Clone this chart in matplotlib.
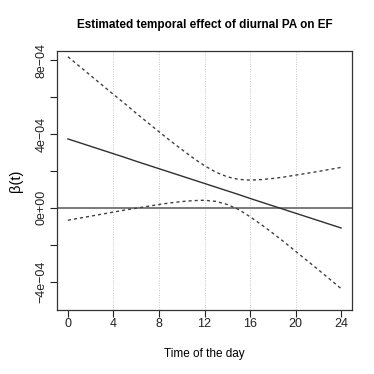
import numpy as np
import matplotlib
matplotlib.use('Agg')
import matplotlib.pyplot as plt

plt.rcParams['font.family'] = ['Liberation Sans', 'DejaVu Sans']

# Hour of day and estimated coefficient (units 1e-4)
hours = list(range(0, 25))
beta = [3.73, 3.53, 3.33, 3.13, 2.93, 2.73, 2.52, 2.32, 2.12, 1.92, 1.72, 1.52, 1.32,
        1.12, 0.92, 0.72, 0.51, 0.31, 0.11, -0.09, -0.29, -0.49, -0.69, -0.89, -1.09]
upper = [8.18, 7.67, 7.16, 6.65, 6.14, 5.64, 5.12, 4.62, 4.12, 3.63, 3.16, 2.70, 2.28,
         1.93, 1.68, 1.54, 1.50, 1.53, 1.59, 1.67, 1.77, 1.87, 1.97, 2.08, 2.19]
lower = [-0.67, -0.56, -0.45, -0.34, -0.23, -0.12, -0.02, 0.08, 0.18, 0.27, 0.34, 0.39, 0.41,
         0.35, 0.18, -0.09, -0.48, -0.91, -1.37, -1.85, -2.35, -2.85, -3.35, -3.86, -4.37]

x_ticks = [0, 4, 8, 12, 16, 20, 24]
grid_hours = [4, 8, 12, 16, 20]
y_ticks = [-4e-4, -2e-4, 0, 2e-4, 4e-4, 6e-4, 8e-4]
y_labels = {-4e-4: '\u22124e\u221204', 0: '0e+00', 4e-4: '4e\u221204', 8e-4: '8e\u221204'}

scale = 1e-4
beta = np.array(beta) * scale
upper = np.array(upper) * scale
lower = np.array(lower) * scale

fig = plt.figure(figsize=(3.74, 3.74), dpi=100)
ax = fig.add_axes([57/374, 1 - 310/374, 295/374, 259/374])

for h in grid_hours:
    ax.axvline(h, color='#c8c8c8', lw=0.7, linestyle=(0, (1, 1.5)), zorder=0)
ax.axhline(0, color='#707070', lw=1.3, zorder=1)

dash = (0, (2.2, 2.2))
ax.plot(hours, beta, color='#303030', lw=1.0, zorder=2)
ax.plot(hours, upper, color='#404040', lw=1.0, linestyle=dash, zorder=2)
ax.plot(hours, lower, color='#404040', lw=1.0, linestyle=dash, zorder=2)

ax.set_xlim(-0.96, 24.96)
ax.set_ylim(-5.53e-4, 8.49e-4)

ax.set_xticks(x_ticks)
ax.set_xticklabels([str(t) for t in x_ticks])
ax.set_yticks(y_ticks)
ax.set_yticklabels([y_labels.get(v, '') for v in y_ticks])
ax.tick_params(axis='both', direction='out', length=5, width=0.8, colors='#222222', labelsize=9)
ax.tick_params(axis='x', pad=1.0)
ax.tick_params(axis='y', pad=2.0)
for lab in ax.get_yticklabels():
    lab.set_rotation(90)
    lab.set_va('center')

for sp in ax.spines.values():
    sp.set_color('#333333')
    sp.set_linewidth(0.9)

fig.text(204.5/374, 1 - 25/374, 'Estimated temporal effect of diurnal PA on EF',
         ha='center', va='center', fontsize=8.5, fontweight='bold')
ax.set_xlabel('Time of the day', fontsize=8.5)
ax.xaxis.set_label_coords(0.5, (310 - 354) / 259)
ax.xaxis.label.set_va('center')
ax.set_ylabel('\u03b2(t)', fontsize=10.5)
ax.yaxis.set_label_coords((16 - 57) / 295, 0.5)
ax.yaxis.label.set_va('center')

fig.savefig('out.png', dpi=100)
